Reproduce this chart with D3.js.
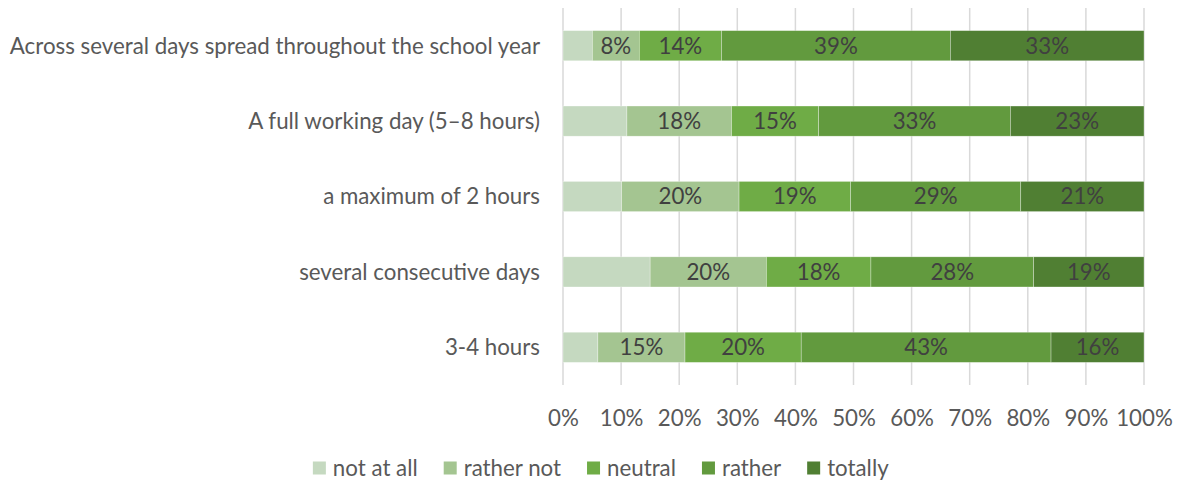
<!DOCTYPE html>
<html>
<head>
<meta charset="utf-8">
<script src="https://cdn.jsdelivr.net/npm/d3@7"></script>
<style>
  html, body { margin: 0; padding: 0; background: #ffffff; }
  svg { display: block; }
  text { font-family: Lato, "Open Sans", sans-serif; }
</style>
</head>
<body>
<svg id="chart" width="1178" height="481"></svg>
<script>
// ---- data ----
const categories = [
  "Across several days spread throughout the school year",
  "A full working day (5\u20138 hours)",
  "a maximum of 2 hours",
  "several consecutive days",
  "3-4 hours"
];
const seriesNames = ["not at all", "rather not", "neutral", "rather", "totally"];
const notAtAll   = [5, 11, 10, 15, 6];
const ratherNot  = [8, 18, 20, 20, 15];
const neutral    = [14, 15, 19, 18, 20];
const rather     = [39, 33, 29, 28, 43];
const totally    = [33, 23, 21, 19, 16];
const showLabel  = [false, true, true, true, true]; // per series
const tickValues = [0, 0.1, 0.2, 0.3, 0.4, 0.5, 0.6, 0.7, 0.8, 0.9, 1.0];
const colors = ["#C5D9C0", "#A4C591", "#6FAC46", "#629A3E", "#507F33"];

const seriesArrays = [notAtAll, ratherNot, neutral, rather, totally];
const rows = categories.map((c, i) => {
  const o = { category: c };
  seriesNames.forEach((s, j) => { o[s] = seriesArrays[j][i]; });
  return o;
});

const FS = 22.3;

// ---- layout ----
const svg = d3.select("#chart");
const plot = { left: 563, right: 1144, top: 8, bottom: 385 };

const x = d3.scaleLinear().domain([0, 1]).range([plot.left, plot.right]);
const y = d3.scaleBand().domain(categories).range([plot.top, plot.bottom])
  .paddingInner(0.6).paddingOuter(0.3);

const stack = d3.stack().keys(seriesNames).offset(d3.stackOffsetExpand);
const stacked = stack(rows);

// gridlines
svg.append("g")
  .selectAll("line")
  .data(tickValues)
  .join("line")
  .attr("x1", d => x(d)).attr("x2", d => x(d))
  .attr("y1", plot.top).attr("y2", plot.bottom)
  .attr("stroke", "#D9D9D9").attr("stroke-width", 1.5);

// bars
const layers = svg.append("g").selectAll("g")
  .data(stacked)
  .join("g")
  .attr("fill", (d, i) => colors[i]);

layers.selectAll("rect")
  .data(d => d.map(v => ({ v, key: d.key })))
  .join("rect")
  .attr("x", d => x(d.v[0]))
  .attr("width", d => x(d.v[1]) - x(d.v[0]))
  .attr("y", d => y(d.v.data.category))
  .attr("height", y.bandwidth())
  .attr("stroke", "#ffffff").attr("stroke-width", 0.6).attr("stroke-opacity", 0.5);

// data labels
layers.each(function(layer, i) {
  if (!showLabel[i]) return;
  d3.select(this).selectAll("text")
    .data(layer)
    .join("text")
    .attr("x", d => (x(d[0]) + x(d[1])) / 2)
    .attr("y", d => y(d.data.category) + y.bandwidth() / 2)
    .attr("dy", "0.35em")
    .attr("text-anchor", "middle")
    .attr("fill", "#404040")
    .attr("font-size", FS)
    .text(d => d.data[layer.key] + "%");
});

// category axis labels
svg.append("g")
  .selectAll("text")
  .data(categories)
  .join("text")
  .attr("x", 540)
  .attr("y", d => y(d) + y.bandwidth() / 2)
  .attr("dy", "0.35em")
  .attr("text-anchor", "end")
  .attr("fill", "#595959")
  .attr("font-size", FS)
  .text(d => d);

// x axis
const xAxis = d3.axisBottom(x).tickValues(tickValues).tickFormat(d3.format(".0%")).tickSize(0).tickPadding(0);
const ax = svg.append("g").attr("transform", `translate(0, 418)`).call(xAxis);
ax.select(".domain").remove();
ax.selectAll("text")
  .attr("y", 0).attr("dy", "0.35em")
  .attr("fill", "#595959")
  .attr("font-size", FS)
  .style("font-family", "Lato, 'Open Sans', sans-serif");

// legend
const legend = svg.append("g");
const items = legend.selectAll("g").data(seriesNames).join("g");
items.append("rect")
  .attr("width", 13).attr("height", 13)
  .attr("y", 468 - 6.5)
  .attr("fill", (d, i) => colors[i]);
items.append("text")
  .attr("x", 20).attr("y", 468).attr("dy", "0.35em")
  .attr("fill", "#595959").attr("font-size", FS)
  .text(d => d);
const widths = [];
items.each(function() { widths.push(this.getBBox().width); });
const gap = 26;
const total = d3.sum(widths) + gap * (widths.length - 1);
let start = 601 - total / 2;
items.attr("transform", (d, i) => {
  const t = `translate(${start},0)`;
  start += widths[i] + gap;
  return t;
});
</script>
</body>
</html>
